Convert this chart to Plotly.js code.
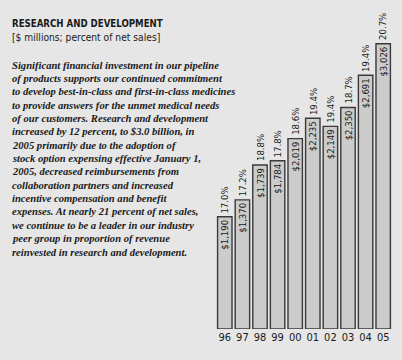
<!DOCTYPE html>
<html><head><meta charset="utf-8">
<script src="https://cdn.plot.ly/plotly-3.0.1.min.js"></script>
<style>html,body{margin:0;padding:0;background:#e6e6e6;}</style>
</head><body>
<div id="chart" style="width:402px;height:360px;"></div>
<script>
var years = ["96","97","98","99","00","01","02","03","04","05"];
var rdValues = [1190,1370,1739,1784,2019,2235,2149,2350,2691,3026];
var rdLabels = ["$1,190","$1,370","$1,739","$1,784","$2,019","$2,235","$2,149","$2,350","$2,691","$3,026"];
var pctLabels = ["17.0%","17.2%","18.8%","17.8%","18.6%","19.4%","19.4%","18.7%","19.4%","20.7%"];
var titleText = "RESEARCH AND DEVELOPMENT";
var subtitleText = "[$ millions; percent of net sales]";
var bodyLines = [
 "Significant financial investment in our pipeline",
 "of products supports our continued commitment",
 "to develop best-in-class and first-in-class medicines",
 "to provide answers for the unmet medical needs",
 "of our customers. Research and development",
 "increased by 12 percent, to $3.0 billion, in",
 "2005 primarily due to the adoption of",
 "stock option expensing effective January 1,",
 "2005, decreased reimbursements from",
 "collaboration partners and increased",
 "incentive compensation and benefit",
 "expenses. At nearly 21 percent of net sales,",
 "we continue to be a leader in our industry",
 "peer group in proportion of revenue",
 "reinvested in research and development."
];

var W = 402, H = 360;
var M = {l:216, r:9.5, t:20, b:31};
var pw = W - M.l - M.r, ph = H - M.t - M.b;
function px2x(p){ return (p - M.l)/pw; }
function py2y(p){ return (H - M.b - p)/ph; }

var narrow = "Liberation Sans Narrow, DejaVu Sans Condensed, Arial Narrow, sans-serif";
var serif = "Liberation Serif, Times New Roman, serif";

var annotations = [];
annotations.push({xref:'paper', yref:'paper', x:px2x(9), y:py2y(24), xanchor:'left', yanchor:'middle',
  text:'<b>'+titleText+'</b>', showarrow:false, font:{family:narrow, size:9.6, color:'#1a1a1a'}});
annotations.push({xref:'paper', yref:'paper', x:px2x(9), y:py2y(37.5), xanchor:'left', yanchor:'middle',
  text:subtitleText, showarrow:false, font:{family:narrow, size:10.2, color:'#1a1a1a'}});
bodyLines.forEach(function(line, i){
  annotations.push({xref:'paper', yref:'paper', x:px2x(9), y:py2y(65 + i*13.36), xanchor:'left', yanchor:'middle',
    text:'<b><i>'+line+'</i></b>', showarrow:false, font:{family:serif, size:10.6, color:'#1a1a1a'}});
});
years.forEach(function(yr, i){
  annotations.push({xref:'x', yref:'y', x:i, y:rdValues[i], yshift:17, xanchor:'center', yanchor:'middle',
    text:pctLabels[i], textangle:-90, showarrow:false, font:{family:narrow, size:9.5, color:'#1a1a1a'}});
});

var trace = {
  type:'bar', x:years, y:rdValues, text:rdLabels,
  textposition:'inside', insidetextanchor:'end', textangle:-90,
  constraintext:'none',
  textfont:{family:narrow, size:9.5, color:'#1a1a1a'},
  marker:{color:'#cccccc', line:{color:'#3a3a3a', width:1.4}},
  hoverinfo:'none'
};

var layout = {
  width:W, height:H, margin:M,
  paper_bgcolor:'#e6e6e6', plot_bgcolor:'#e6e6e6',
  bargap:0.18, showlegend:false,
  xaxis:{type:'category', range:[-0.5,9.5], showgrid:false, zeroline:false, showline:false, ticks:'',
    tickfont:{family:narrow, size:11, color:'#1a1a1a'}},
  yaxis:{range:[0, ph/0.09428], visible:false, showgrid:false, zeroline:false},
  annotations:annotations
};
Plotly.newPlot('chart', [trace], layout, {displayModeBar:false, staticPlot:true});
</script>
</body></html>
